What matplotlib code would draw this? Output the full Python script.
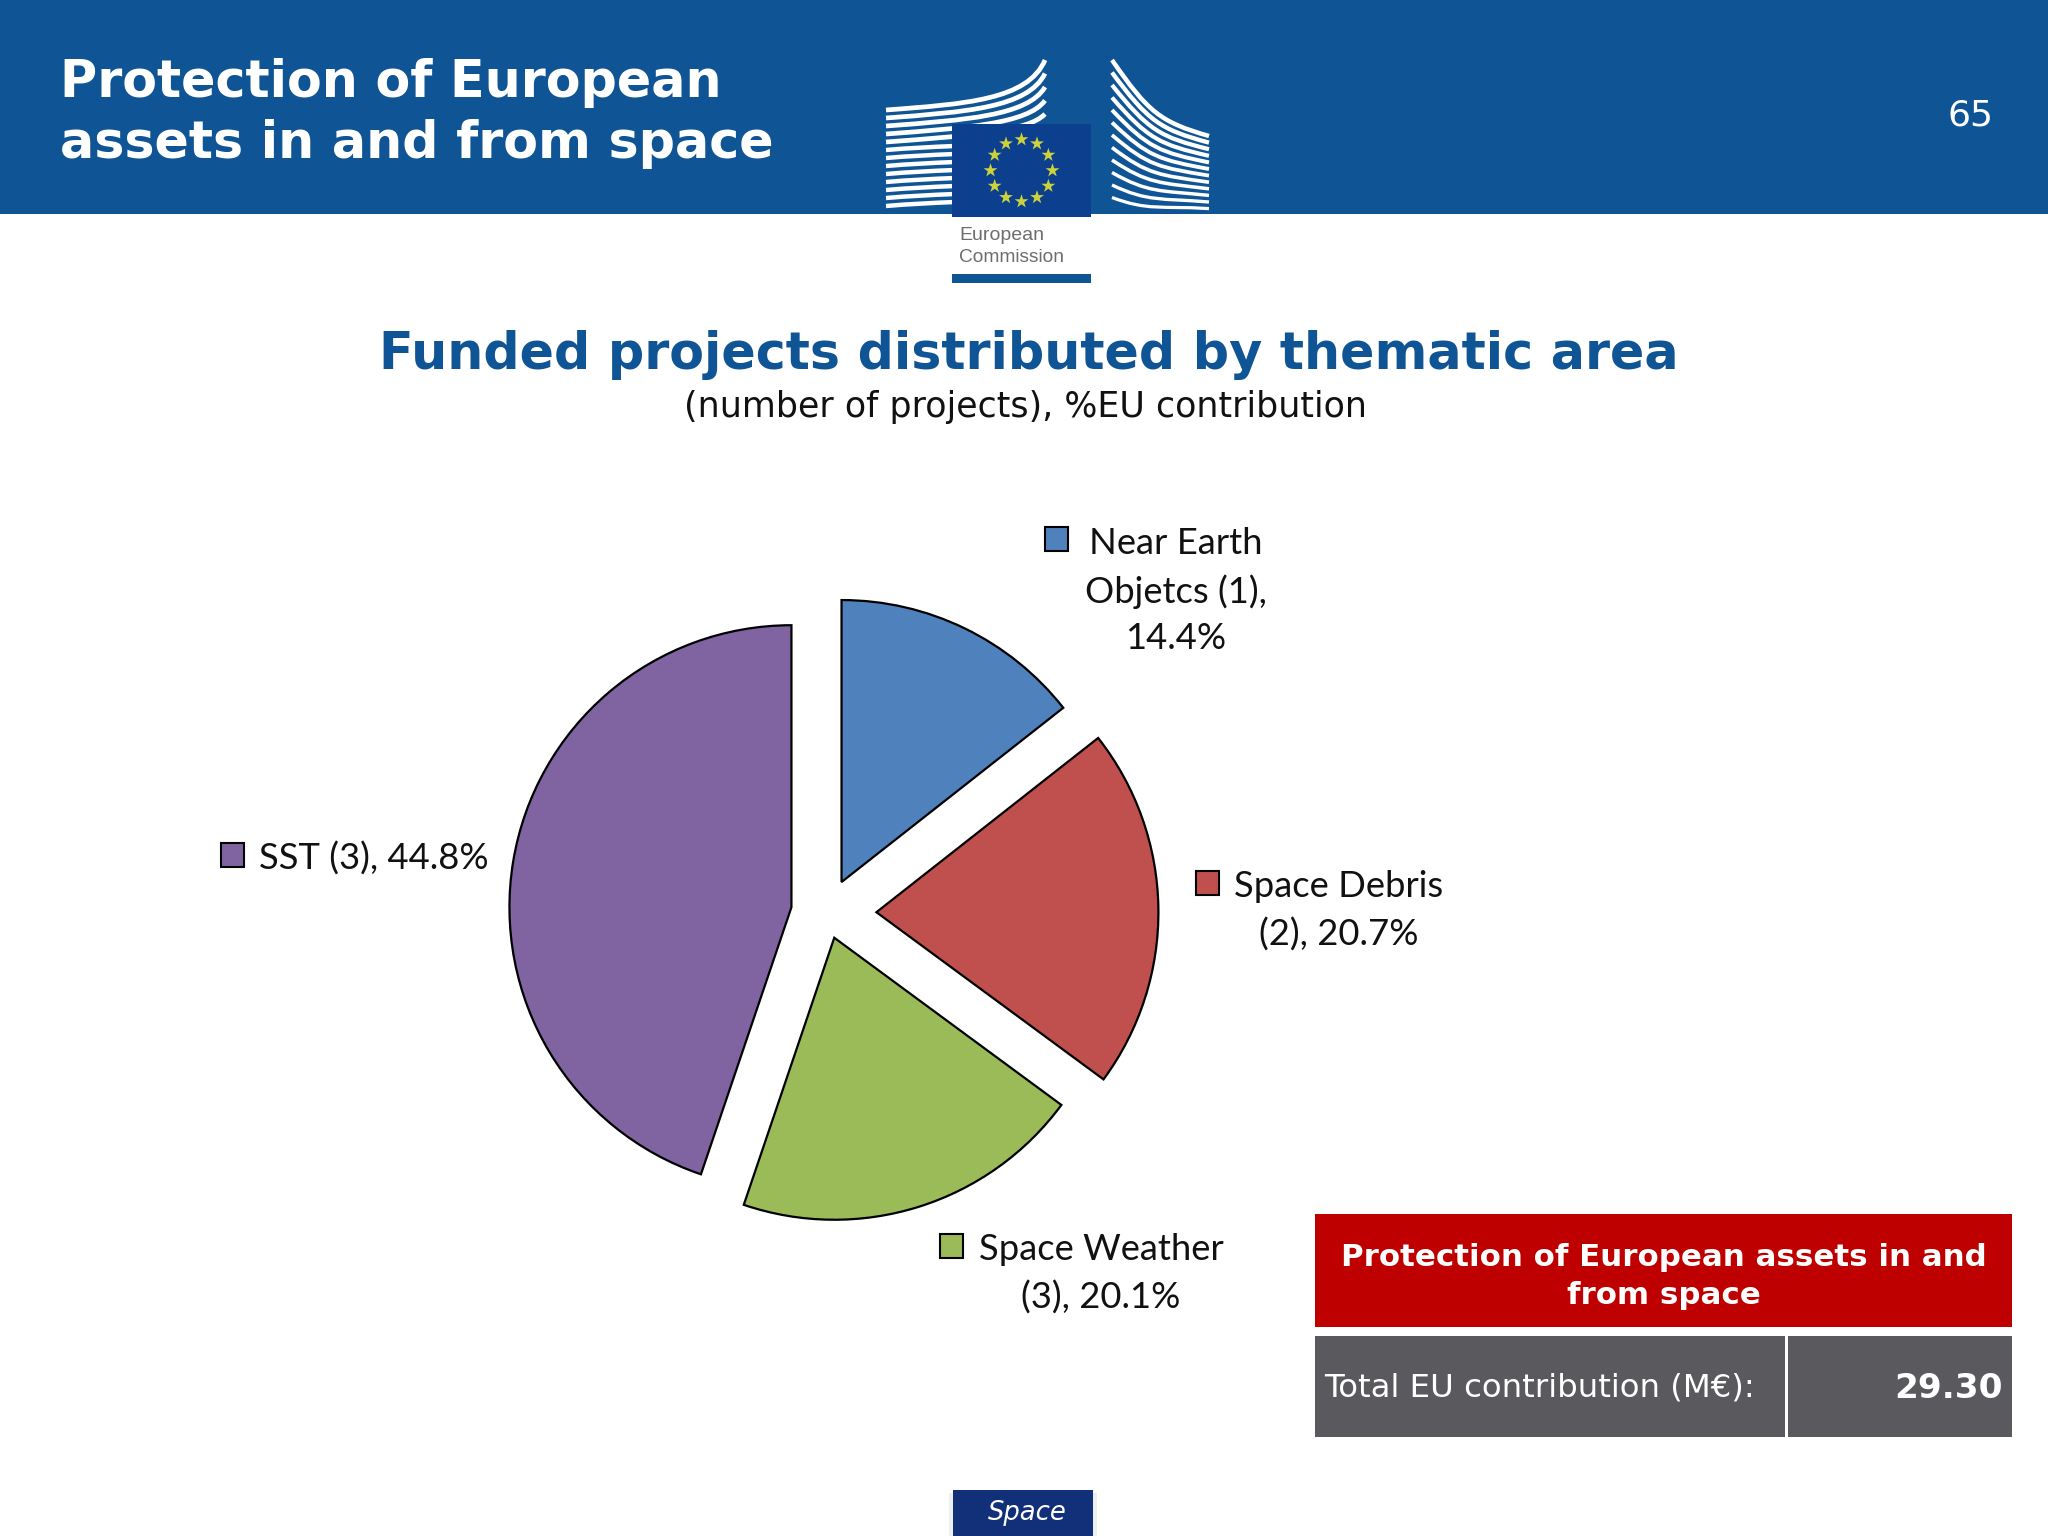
import matplotlib
matplotlib.use("Agg")
import matplotlib.pyplot as plt
import numpy as np
from matplotlib.patches import PathPatch, Rectangle
from matplotlib.path import Path

W, H = 2048, 1536

# chart data
areas = ["Near Earth\nObjetcs (1),\n14.4%", "Space Debris\n(2), 20.7%", "Space Weather\n(3), 20.1%", "SST (3), 44.8%"]
shares = [14.4, 20.7, 20.1, 44.8]
colors = ["#4f81bd", "#c0504d", "#9bbb59", "#8064a2"]
explode = [0.122, 0.177, 0.092, 0.126]

BLUE = "#0f5494"
PIE_X, PIE_Y, PIE_R = 826.5, 913, 282

fig = plt.figure(figsize=(W / 100, H / 100), dpi=100, facecolor="white")
bg = fig.add_axes([0, 0, 1, 1])
bg.set_xlim(0, W)
bg.set_ylim(H, 0)
bg.axis("off")


def box(x0, y0, x1, y1, color, z=1, **kw):
    bg.add_patch(Rectangle((x0, y0), x1 - x0, y1 - y0, facecolor=color, edgecolor="none", zorder=z, **kw))


def curve(p0, p1, p2, p3, lw):
    path = Path([p0, p1, p2, p3], [Path.MOVETO, Path.CURVE4, Path.CURVE4, Path.CURVE4])
    bg.add_patch(PathPatch(path, facecolor="none", edgecolor="white", linewidth=lw, capstyle="butt", zorder=2))


# header band
box(0, 0, W, 214, BLUE)
bg.text(60, 83, "Protection of European", color="white", fontsize=36.5, fontweight="bold", va="center")
bg.text(60, 144, "assets in and from space", color="white", fontsize=36.5, fontweight="bold", va="center")
bg.text(1994, 115, "65", color="white", fontsize=26, ha="right", va="center")

# logo: left wing
for i in range(5):
    y0 = 110 + i * 8
    end_y = 60 + i * 13.5
    curve((886, y0), (965, y0 - 6), (1028, y0 - 10), (1045, end_y), 3.4)
for y0 in np.arange(150, 214, 8):
    curve((886, y0), (910, y0 - 2), (930, y0 - 3), (955, y0 - 4), 3.2)
# logo: right wing
for i in range(12):
    y0 = 60 + i * 12.5
    y1 = 136 + i * 6.6
    curve((1112, y0), (1148, y0 + 52 - i * 3.5), (1160, y1 - 14 + i * 1.0), (1209, y1), 3.2 - i * 0.08)

# logo: flag and name plate
box(952, 124, 1091, 217, "#0d3f8f", z=3)
box(952, 217, 1091, 274, "white", z=3)
box(952, 274, 1091, 283, BLUE, z=3)
star_angles = np.deg2rad(np.arange(0, 360, 30))
bg.scatter(1021.5 + 31 * np.sin(star_angles), 170.5 - 31 * np.cos(star_angles), marker="*", s=110,
           color="#ccd23c", edgecolor="none", zorder=4)
bg.text(959, 235, "European", color="#6d6d6d", fontsize=14, family="Liberation Sans", va="center", zorder=4)
bg.text(959, 258, "Commission", color="#6d6d6d", fontsize=13.8, family="Liberation Sans", va="center", zorder=4)

# headings
bg.text(1029, 355, "Funded projects distributed by thematic area", color=BLUE, fontsize=36.5, fontweight="bold",
        ha="center", va="center")
bg.text(1025, 407, "(number of projects), %EU contribution", color="#111111", fontsize=25.1, ha="center", va="center")

# pie
pie_ax = fig.add_axes([0, 0, 1, 1])
pie_ax.patch.set_alpha(0)
pie_ax.pie(shares, explode=explode, colors=colors, startangle=90, counterclock=False,
           wedgeprops={"edgecolor": "black", "linewidth": 1.6})
pie_ax.set_xlim(-PIE_X / PIE_R, (W - PIE_X) / PIE_R)
pie_ax.set_ylim((PIE_Y - H) / PIE_R, PIE_Y / PIE_R)

# hand placed labels, same order as areas
label_xy = [(1176, 591), (1339, 911), (1101, 1274), (374, 859)]
swatch_xy = [(1045, 527), (1196, 871), (940, 1234), (221, 843)]
for name, col, (lx, ly), (sx, sy) in zip(areas, colors, label_xy, swatch_xy):
    bg.text(lx, ly, name, fontsize=26.2, family="Lato", color="#111111", ha="center", va="center",
            ma="center", linespacing=1.5, zorder=5)
    bg.add_patch(Rectangle((sx, sy), 23, 24, facecolor=col, edgecolor="black", linewidth=1.5, zorder=5))

# summary table
box(1315, 1214, 2012, 1327, "#bf0000")
bg.text(1664, 1258, "Protection of European assets in and", color="white", fontsize=22.2, fontweight="bold",
        ha="center", va="center")
bg.text(1664, 1295, "from space", color="white", fontsize=22.2, fontweight="bold", ha="center", va="center")
box(1315, 1336, 1785, 1437, "#5a595d")
box(1788, 1336, 2012, 1437, "#5a595d")
bg.text(1324, 1388, "Total EU contribution (M€):", color="white", fontsize=23.3, va="center")
bg.text(2003, 1388, "29.30", color="white", fontsize=24.7, fontweight="bold", ha="right", va="center")

# footer tab
box(949, 1493, 1097, H, "#efeff2")
box(953, 1490, 1093, H, "#12307a")
bg.text(1027, 1513, "Space", color="white", fontsize=18.6, style="italic", ha="center", va="center")

fig.savefig("out.png", dpi=100)
